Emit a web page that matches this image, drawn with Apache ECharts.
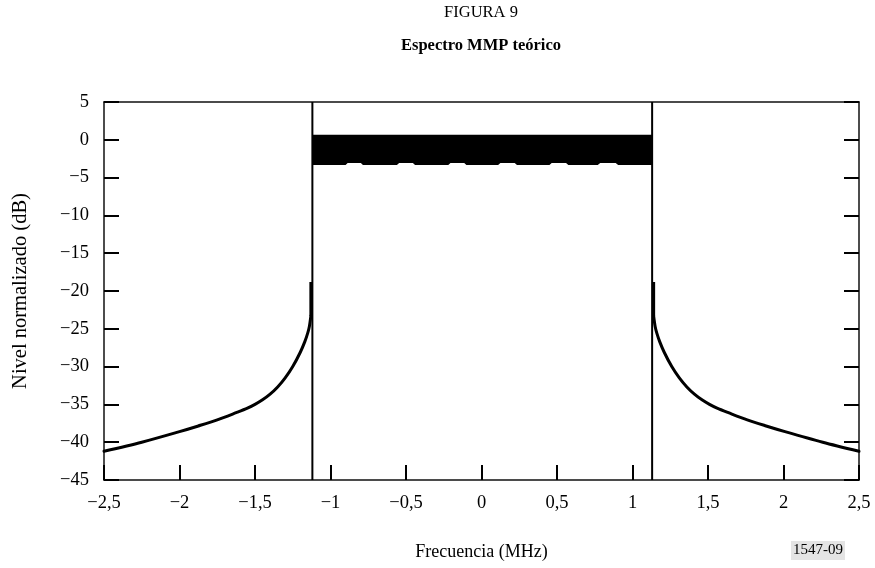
<!DOCTYPE html>
<html>
<head>
<meta charset="utf-8">
<script src="https://cdn.jsdelivr.net/npm/echarts@6/dist/echarts.min.js"></script>
<style>
html,body{margin:0;padding:0;background:#fff;}
#chart{width:875px;height:568px;}
</style>
</head>
<body>
<div id="chart"></div>
<script>
// ---- data ----
const leftCurveX = [-2.5, -2.25, -2.0, -1.875, -1.75, -1.625, -1.55, -1.5, -1.45, -1.4, -1.35, -1.3, -1.25, -1.2, -1.17, -1.15, -1.14, -1.13];
const leftCurveY = [-41.2, -40.0, -38.6, -37.85, -37.05, -36.1, -35.5, -35.0, -34.4, -33.65, -32.7, -31.5, -30.0, -28.1, -26.7, -25.5, -24.7, -23.3];
const rightCurveX = [1.14, 1.15, 1.16, 1.18, 1.21, 1.26, 1.31, 1.36, 1.41, 1.46, 1.51, 1.56, 1.635, 1.76, 1.885, 2.01, 2.26, 2.5];
const rightCurveY = [-23.3, -24.7, -25.5, -26.7, -28.1, -30.0, -31.5, -32.7, -33.65, -34.4, -35.0, -35.5, -36.1, -37.05, -37.85, -38.6, -40.0, -41.2];
const spikeX = [-1.13, 1.14];
const spikeY = [-23.3, -18.8];
const edgeX = [-1.12, 1.13];
const bandX = [-1.12, 1.13];
const bandTop = 0.67;
const bandBottom = -3.33;
const bumpStart = [-0.90, -0.56, -0.22, 0.11, 0.45, 0.77];
const bumpEnd = [-0.785, -0.44, -0.10, 0.235, 0.575, 0.905];
const bumpTop = -3.08;
const xTicks = [-2.5, -2, -1.5, -1, -0.5, 0, 0.5, 1, 1.5, 2, 2.5];
const yTicks = [5, 0, -5, -10, -15, -20, -25, -30, -35, -40, -45];

// ---- build series data ----
const leftCurve = leftCurveX.map((x, i) => [x, leftCurveY[i]]);
const rightCurve = rightCurveX.map((x, i) => [x, rightCurveY[i]]);
const bandData = bandX.map(x => [x, bandTop]);
const bumpData = [[bandX[0], bandBottom]];
bumpStart.forEach((s, i) => {
  const e = bumpEnd[i];
  const w = e - s;
  bumpData.push([s, bandBottom]);
  bumpData.push([s + w * 0.12, bumpTop]);
  bumpData.push([e - w * 0.12, bumpTop]);
  bumpData.push([e, bandBottom]);
});
bumpData.push([bandX[1], bandBottom]);

const fmt = v => {
  let s = String(v).replace('.', ',');
  if (v < 0) s = '\u2212' + s.slice(1);
  return s;
};
const FONT = 'Liberation Serif';
const axisLine = { onZero: false, lineStyle: { color: '#111', width: 1.5 } };
const lineBase = { type: 'line', showSymbol: false, symbol: 'none' };

const series = [
  Object.assign({}, lineBase, { data: bandData, lineStyle: { width: 0 },
    areaStyle: { color: '#000', opacity: 1, origin: bandBottom }, z: 2 }),
  Object.assign({}, lineBase, { data: bumpData, lineStyle: { width: 0 },
    areaStyle: { color: '#fff', opacity: 1, origin: bandBottom - 0.3 }, z: 3 })
];
edgeX.forEach(x => series.push(Object.assign({}, lineBase, {
  data: [[x, -45], [x, 5]], lineStyle: { color: '#000', width: 2 }, z: 4 })));
spikeX.forEach(x => series.push(Object.assign({}, lineBase, {
  data: spikeY.map(y => [x, y]), lineStyle: { color: '#000', width: 3 }, z: 5 })));
[leftCurve, rightCurve].forEach(d => series.push(Object.assign({}, lineBase, {
  data: d, smooth: 0.3, lineStyle: { color: '#000', width: 3, cap: 'round', join: 'round' }, z: 5 })));

const chart = echarts.init(document.getElementById('chart'));
chart.setOption({
  animation: false,
  backgroundColor: '#fff',
  grid: { left: 104, right: 16, top: 102, bottom: 88 },
  xAxis: [
    { type: 'value', min: -2.5, max: 2.5, interval: 0.5, position: 'bottom',
      axisLine: axisLine,
      axisTick: { inside: true, length: 15, lineStyle: { color: '#000', width: 2 } },
      axisLabel: { formatter: fmt, fontFamily: FONT, fontSize: 18.5, color: '#000', margin: 14 },
      splitLine: { show: false },
      name: 'Frecuencia (MHz)', nameLocation: 'middle', nameGap: 63,
      nameTextStyle: { fontFamily: FONT, fontSize: 18, color: '#000' } },
    { type: 'value', min: -2.5, max: 2.5, interval: 0.5, position: 'top',
      axisLine: axisLine,
      axisTick: { show: false }, axisLabel: { show: false }, splitLine: { show: false } }
  ],
  yAxis: [
    { type: 'value', min: -45, max: 5, interval: 5, position: 'left',
      axisLine: axisLine,
      axisTick: { inside: true, length: 15, lineStyle: { color: '#000', width: 2 } },
      axisLabel: { formatter: fmt, fontFamily: FONT, fontSize: 18.5, color: '#000', margin: 15 },
      splitLine: { show: false },
      name: 'Nivel normalizado (dB)', nameLocation: 'middle', nameGap: 73, nameRotate: 90,
      nameTextStyle: { fontFamily: FONT, fontSize: 20.5, color: '#000' } },
    { type: 'value', min: -45, max: 5, interval: 5, position: 'right',
      axisLine: axisLine,
      axisTick: { inside: true, length: 15, lineStyle: { color: '#000', width: 2 } },
      axisLabel: { show: false }, splitLine: { show: false } }
  ],
  series: series,
  graphic: [
    { type: 'text', x: 481, y: 4,
      style: { text: 'FIGURA 9', font: '16.5px "Liberation Serif"', fill: '#000', textAlign: 'center' } },
    { type: 'text', x: 481, y: 37,
      style: { text: 'Espectro MMP teórico', font: 'bold 16.5px "Liberation Serif"', fill: '#000', textAlign: 'center' } },
    { type: 'text', left: 791, top: 541,
      style: { text: '1547-09', font: '15px "Liberation Serif"', fill: '#000',
               backgroundColor: '#e4e4e4', padding: [2, 2] } }
  ]
});
</script>
</body>
</html>
